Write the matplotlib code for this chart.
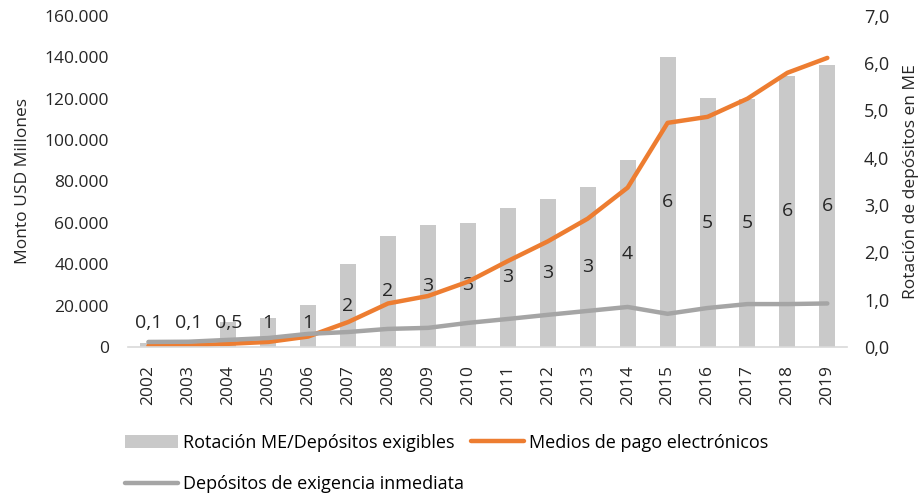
import matplotlib
matplotlib.use("Agg")
import matplotlib.pyplot as plt
import numpy as np

# Datos
years = [str(y) for y in range(2002, 2020)]
rotacion = [0.08, 0.09, 0.53, 0.61, 0.89, 1.75, 2.35, 2.58, 2.62, 2.94, 3.13, 3.38,
            3.95, 6.13, 5.26, 5.25, 5.73, 5.96]
rotacion_lbl = ["0,1", "0,1", "0,5", "1", "1", "2", "2", "3", "3", "3", "3", "3",
                "4", "6", "5", "5", "6", "6"]
medios_pago = [500, 600, 1500, 2400, 5000, 12000, 21000, 24600, 31500, 41500, 51000,
               62000, 77000, 108300, 111200, 120000, 132500, 139700]
depositos = [2400, 2500, 3400, 4300, 6300, 7200, 8700, 9200, 11600, 13500, 15500,
             17400, 19300, 16000, 18800, 20700, 20700, 21000]

plt.rcParams['font.family'] = ['Open Sans', 'DejaVu Sans']
txt = '#262626'

fig = plt.figure(figsize=(9.24, 4.97), dpi=100)
ax = fig.add_axes([0.139, 0.302, 0.778, 0.666])
ax2 = ax.twinx()

x = np.arange(len(years))

# Barras en el eje derecho
bars = ax2.bar(x, rotacion, width=0.4, color='#c9c9c9', zorder=1,
               label='Rotación ME/Depósitos exigibles')
for xi, v, s in zip(x, rotacion, rotacion_lbl):
    ax2.text(xi, max(v / 2, 0.5), s, ha='center', va='center', fontsize=14, color=txt)

# Líneas en el eje izquierdo (encima de las barras)
ax.set_zorder(ax2.get_zorder() + 1)
ax.patch.set_visible(False)
l1, = ax.plot(x, medios_pago, color='#ed7d31', lw=3.2, solid_capstyle='round',
              label='Medios de pago electrónicos')
l2, = ax.plot(x, depositos, color='#a5a5a5', lw=3.2, solid_capstyle='round',
              label='Depósitos de exigencia inmediata')

ax.set_xlim(-0.5, 17.5)
ax.set_ylim(0, 160000)
ax2.set_ylim(0, 7)
ax.set_yticks(np.arange(0, 160001, 20000))
ax.set_yticklabels([f"{v:,.0f}".replace(",", ".") for v in np.arange(0, 160001, 20000)])
ax2.set_yticks(np.arange(0, 7.01, 1))
ax2.set_yticklabels([f"{v:.1f}".replace(".", ",") for v in np.arange(0, 7.01, 1)])
ax.set_xticks(x)
ax.set_xticklabels(years, rotation=90)

for a in (ax, ax2):
    for s in ('top', 'left', 'right', 'bottom'):
        a.spines[s].set_visible(False)
    a.tick_params(length=0, labelsize=12.5, colors=txt)
ax.spines['bottom'].set_visible(True)
ax.spines['bottom'].set_color('#d9d9d9')
ax.spines['bottom'].set_linewidth(1.2)
ax.tick_params(axis='y', pad=14)
ax.tick_params(axis='x', pad=13)
ax2.tick_params(axis='y', pad=12, labelsize=13)

ax.set_ylabel('Monto USD Millones', fontsize=12.5, color=txt, labelpad=10)
ax2.set_ylabel('Rotación de depósitos en ME', fontsize=12.5, color=txt, labelpad=10)

fig.legend([bars, l2, l1], [bars.get_label(), l2.get_label(), l1.get_label()],
           ncol=2, loc='upper left', bbox_to_anchor=(0.118, 0.16),
           bbox_transform=fig.transFigure, frameon=False, fontsize=13,
           labelspacing=1.3, handlelength=2.9, handletextpad=0.3, columnspacing=0.4)

fig.savefig('out.png', dpi=100)
